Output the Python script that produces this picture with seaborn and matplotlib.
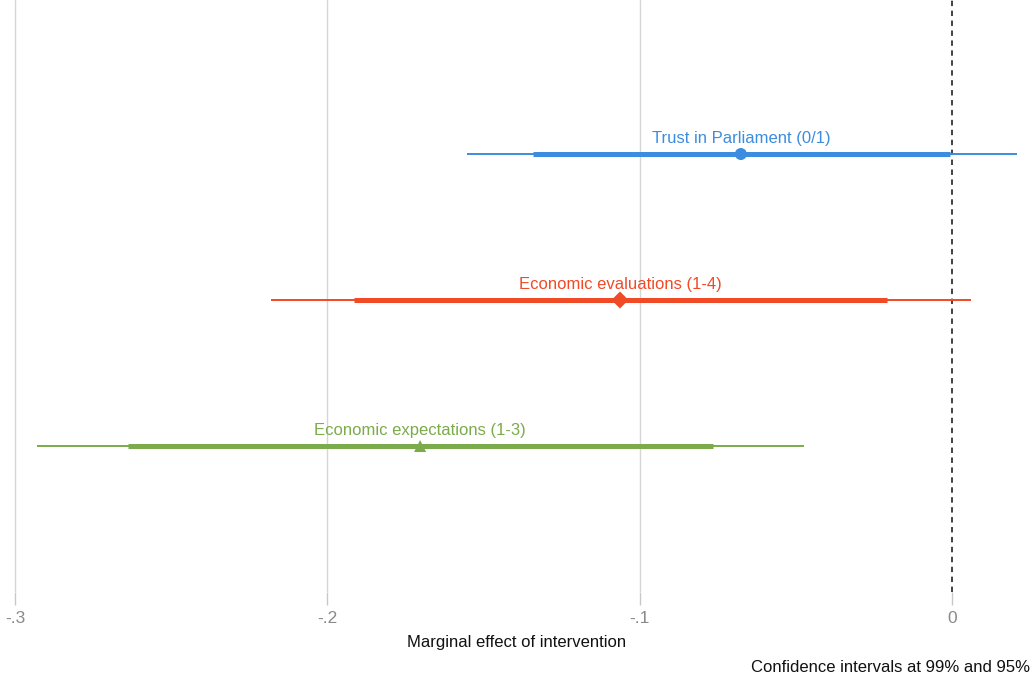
import numpy as np
import pandas as pd
import matplotlib
matplotlib.use('Agg')
import matplotlib.pyplot as plt
import seaborn as sns

# 数据
labels = ['Trust in Parliament (0/1)', 'Economic evaluations (1-4)', 'Economic expectations (1-3)']
estimates = [-0.0676, -0.1063, -0.1703]
ci95_low = [-0.134, -0.1915, -0.2638]
ci95_high = [-0.0005, -0.0208, -0.0765]
ci99_low = [-0.1553, -0.218, -0.293]
ci99_high = [0.0208, 0.006, -0.0474]
ypos = [3, 2, 1]
colors = ['#3b8ddf', '#f04a26', '#7bab4a']
markers = ['o', 'D', '^']
xticks = [-0.3, -0.2, -0.1, 0]
xticklabels = ['-.3', '-.2', '-.1', '0']

sns.set_theme(style='white')
plt.rcParams['font.family'] = ['Liberation Sans Narrow', 'Liberation Sans', 'DejaVu Sans']

df = pd.DataFrame({'label': labels, 'est': estimates, 'y': ypos})

fig = plt.figure(figsize=(10.33, 6.79), dpi=100)
ax = fig.add_axes([0, 87 / 679, 1, 592 / 679])

# 网格线
for t in xticks[:-1]:
    ax.axvline(t, color='#d6d6d6', lw=1.0, zorder=0)
ax.axvline(0, color='#333333', lw=1.3, ls=(0, (3, 2.5)), zorder=0)

# 置信区间
for i in range(len(labels)):
    ax.hlines(ypos[i], ci99_low[i], ci99_high[i], color=colors[i], lw=1.4, zorder=2)
    ax.hlines(ypos[i], ci95_low[i], ci95_high[i], color=colors[i], lw=3.6, zorder=3)

sns.scatterplot(data=df, x='est', y='y', hue='label', style='label',
                palette=colors, markers=markers, s=75, linewidth=0,
                legend=False, ax=ax, zorder=4)

for i in range(len(labels)):
    ax.annotate(labels[i], (estimates[i], ypos[i]), xytext=(0, 6),
                textcoords='offset points', ha='center', va='bottom',
                color=colors[i], fontsize=12)

ax.set_xlim(-0.3 - 15 / 3123, (1033 - 952) / 3123)
ax.set_ylim(0, 4.055)
ax.set_yticks([])
ax.set_ylabel('')
ax.set_xticks(xticks)
ax.set_xticklabels(xticklabels, color='#8a8a8a', fontsize=12.5)
ax.tick_params(axis='x', length=9, width=1, color='#c8c8c8', direction='out', pad=5, bottom=True)
ax.set_xlabel('Marginal effect of intervention', fontsize=12, color='#111111', labelpad=6)
for s in ax.spines.values():
    s.set_visible(False)

fig.text(1030 / 1033, 1 - 668 / 679, 'Confidence intervals at 99% and 95%',
         ha='right', va='center', fontsize=12, color='#111111')

fig.savefig('out.png', dpi=100)
